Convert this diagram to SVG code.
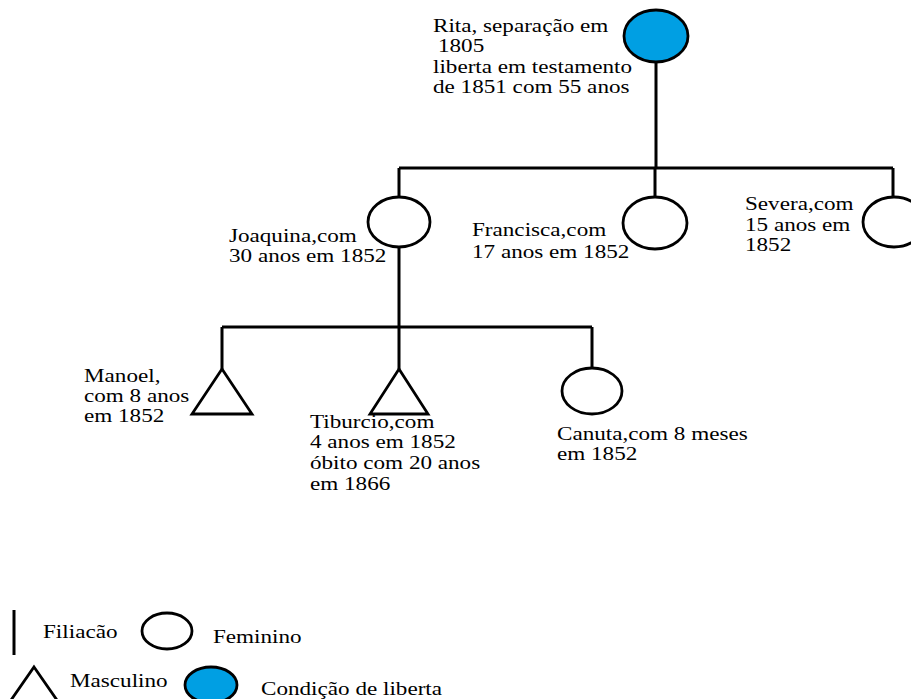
<svg xmlns="http://www.w3.org/2000/svg" width="911" height="699" viewBox="0 0 911 699">
<style>
.ln{stroke:#000;stroke-width:3;fill:none}
.fem{fill:#fff;stroke:#000;stroke-width:2.8}
.lib{fill:#009fe3;stroke:#000;stroke-width:2.8}
.tri{fill:#fff;stroke:#000;stroke-width:2.8;stroke-linejoin:miter}
.t{font-family:'Liberation Serif','Times New Roman',serif;font-size:18.5px;fill:#000}
</style>
<rect width="911" height="699" fill="#fff"/>
<g id="connectors">
<path class="ln" d="M656,62 V168 M399,168 H893 M399,168 V197 M655,168 V197 M893,168 V197"/>
<path class="ln" d="M399,247 V327 M222,327 H592 M222,327 V369 M399,327 V369 M592,327 V368"/>
</g>
<g id="rita">
<ellipse class="lib" cx="656" cy="36" rx="32" ry="26"/>
<text class="t" transform="scale(1.25 1)"><tspan x="346.4" y="32">Rita, separação em</tspan><tspan x="350.4" y="52">1805</tspan><tspan x="346.4" y="73">liberta em testamento</tspan><tspan x="346.4" y="93">de 1851 com 55 anos</tspan></text>
</g>
<g id="joaquina">
<ellipse class="fem" cx="399" cy="222" rx="31" ry="25"/>
<text class="t" transform="scale(1.25 1)"><tspan x="183.2" y="242">Joaquina,com</tspan><tspan x="183.2" y="262">30 anos em 1852</tspan></text>
</g>
<g id="francisca">
<ellipse class="fem" cx="655" cy="223" rx="32" ry="26"/>
<text class="t" transform="scale(1.25 1)"><tspan x="377.6" y="236">Francisca,com</tspan><tspan x="377.6" y="258">17 anos em 1852</tspan></text>
</g>
<g id="severa">
<ellipse class="fem" cx="894" cy="222" rx="31" ry="25"/>
<text class="t" transform="scale(1.25 1)"><tspan x="596" y="210">Severa,com</tspan><tspan x="596" y="231">15 anos em</tspan><tspan x="596" y="251">1852</tspan></text>
</g>
<g id="manoel">
<polygon class="tri" points="222,369 252,414 192,414"/>
<text class="t" transform="scale(1.25 1)"><tspan x="67.2" y="382">Manoel,</tspan><tspan x="67.2" y="402">com 8 anos</tspan><tspan x="67.2" y="422">em 1852</tspan></text>
</g>
<g id="tiburcio">
<polygon class="tri" points="399,369 428,414 370,414"/>
<text class="t" transform="scale(1.25 1)"><tspan x="248" y="428">Tiburcio,com</tspan><tspan x="248" y="448">4 anos em 1852</tspan><tspan x="248" y="469">óbito com 20 anos</tspan><tspan x="248" y="490">em 1866</tspan></text>
</g>
<g id="canuta">
<ellipse class="fem" cx="592" cy="391" rx="30" ry="23"/>
<text class="t" transform="scale(1.25 1)"><tspan x="445.6" y="440">Canuta,com 8 meses</tspan><tspan x="445.6" y="460">em 1852</tspan></text>
</g>
<g id="legend">
<line class="ln" x1="14" y1="610" x2="14" y2="655"/>
<ellipse class="fem" cx="167" cy="631" rx="25" ry="18"/>
<polygon class="tri" points="34,667 59,703 9,703"/>
<ellipse class="lib" cx="211" cy="685" rx="26" ry="18"/>
<text class="t" transform="scale(1.25 1)"><tspan x="34.4" y="638">Filiacão</tspan><tspan x="170.4" y="643">Feminino</tspan><tspan x="56" y="687">Masculino</tspan><tspan x="208.8" y="695">Condição de liberta</tspan></text>
</g>
</svg>
